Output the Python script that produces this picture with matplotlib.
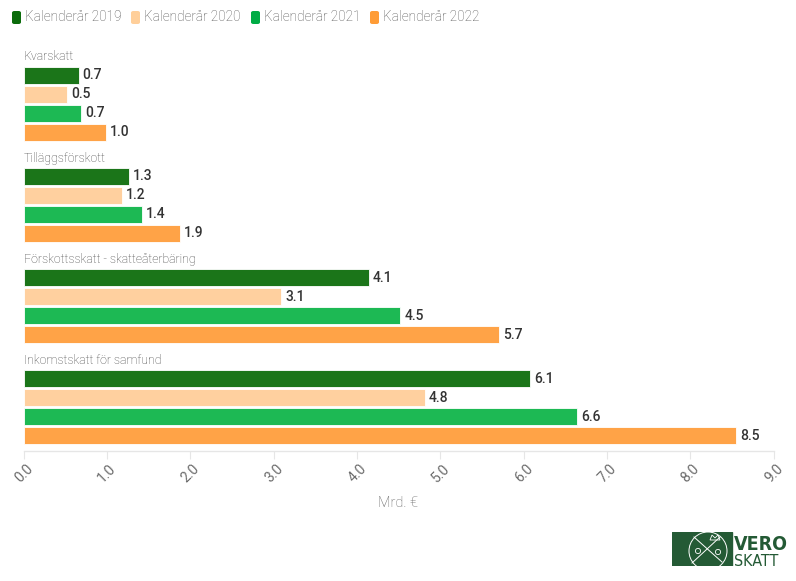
import matplotlib
matplotlib.use("Agg")
import matplotlib.pyplot as plt
from matplotlib.patches import Rectangle, Circle, FancyBboxPatch, Polygon

categories = ["Kvarskatt", "Tilläggsförskott", "Förskottsskatt - skatteåterbäring", "Inkomstskatt för samfund"]
series_names = ["Kalenderår 2019", "Kalenderår 2020", "Kalenderår 2021", "Kalenderår 2022"]
v2019 = [0.66, 1.26, 4.14, 6.08]
v2020 = [0.52, 1.18, 3.09, 4.81]
v2021 = [0.69, 1.42, 4.52, 6.64]
v2022 = [0.99, 1.87, 5.70, 8.549]
xticks = [0, 1, 2, 3, 4, 5, 6, 7, 8, 9]

colors = ["#1b7519", "#ffd09f", "#1db954", "#ffa347"]
legend_colors = ["#0b6b0b", "#ffcf9a", "#00ac45", "#ff9c36"]

plt.rcParams['font.family'] = ['Roboto', 'DejaVu Sans']

W, H = 796, 581
fig = plt.figure(figsize=(W / 100, H / 100), dpi=100)
ax = fig.add_axes([23.7 / W, (H - 450.5) / H, 750 / W, 400.5 / H])
ax.set_xlim(0, 9)
ax.set_ylim(450.5, 50)

series = [v2019, v2020, v2021, v2022]
group_pitch = 101.3
first_center = 75
bar_pitch = 19
bar_h = 17
for s, vals in enumerate(series):
    ys = [first_center + g * group_pitch + s * bar_pitch for g in range(len(categories))]
    ax.barh(ys, vals, height=bar_h, color=colors[s], edgecolor="white", linewidth=0.6, label=series_names[s])
    for y, v in zip(ys, vals):
        ax.annotate(f"{v:.1f}", (v, y), xytext=(4, 0), textcoords="offset pixels",
                    ha="left", va="center", fontsize=10, fontweight="medium", color="#333333")

for g, cat in enumerate(categories):
    ax.text(0, first_center + g * group_pitch - 18, cat, ha="left", va="center",
            fontsize=8.8, color="#444444", fontweight="light")

for sp in ["top", "right", "left"]:
    ax.spines[sp].set_visible(False)
ax.spines["bottom"].set_color("#e6e6e6")
ax.spines["bottom"].set_linewidth(1)
ax.set_yticks([])
ax.set_xticks(xticks)
ax.set_xticklabels([])
ax.tick_params(axis="x", length=6, color="#e6e6e6")
for t in xticks:
    ax.annotate(f"{t:.1f}", xy=(t, 0), xycoords=("data", "axes fraction"),
                xytext=(7, -16), textcoords="offset pixels", rotation=45,
                rotation_mode="anchor", ha="right", va="center",
                fontsize=10, color="#6a6a6a", fontweight="normal")
ax.text(0.5, (H - 503) / H, "Mrd. €", transform=fig.transFigure, ha="center", va="center",
        fontsize=10.5, color="#666666", fontweight="light")

# legend
lx = [12, 131, 251, 370]
for x, c, n in zip(lx, legend_colors, series_names):
    fig.patches.append(FancyBboxPatch((x / W, (H - 24) / H), 9 / W, 13 / H, boxstyle="round,pad=0,rounding_size=0.003",
                                      transform=fig.transFigure, facecolor=c, edgecolor="none"))
    fig.text((x + 13) / W, (H - 17) / H, n, ha="left", va="center", fontsize=9.8,
             color="#555555", fontweight="light")

# logo
green = "#245a35"
lax = fig.add_axes([672 / W, (H - 566) / H, 114 / W, 34 / H])
lax.set_xlim(0, 114)
lax.set_ylim(0, 34)
lax.axis("off")
bg = Rectangle((0, 0), 60, 34, color=green)
lax.add_patch(bg)
circ = Circle((36, 15), 19, fill=False, edgecolor="white", linewidth=0.7)
lax.add_patch(circ)
circ.set_clip_path(bg)
lax.plot([20, 48], [3, 29], color="white", linewidth=0.7)
lax.plot([22, 50], [29, 4], color="white", linewidth=0.7)
lax.add_patch(Circle((26, 15), 2.6, fill=False, edgecolor="white", linewidth=0.6))
lax.add_patch(Circle((46, 14), 2.6, fill=False, edgecolor="white", linewidth=0.6))
lax.add_patch(Polygon([[38, 26], [40, 31], [43, 28], [46, 31], [48, 26]], closed=True,
                      fill=False, edgecolor="white", linewidth=0.6))
lax.text(62, 16, "VERO", fontsize=14, fontweight="bold", color=green, va="baseline", ha="left",
         family="DejaVu Sans", fontstretch="condensed")
lax.text(62, 0.5, "SKATT", fontsize=11.5, color=green, va="baseline", ha="left",
         family="DejaVu Sans", fontstretch="condensed")

fig.savefig("out.png", dpi=100, facecolor="white")
